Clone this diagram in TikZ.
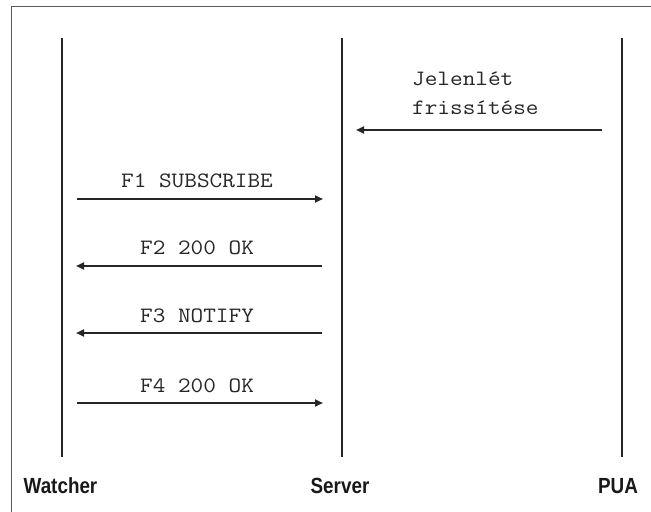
\documentclass[tikz,border=0pt]{standalone}
\usepackage{fontspec}
\setmainfont{Liberation Sans}
\usetikzlibrary{arrows.meta}
\newcommand{\mt}[1]{\scalebox{1.12}[1]{#1}}
\newcommand{\at}[1]{\scalebox{0.86}[1]{#1}}
\begin{document}
\begin{tikzpicture}[x=1bp,y=-1bp,
  lifeline/.style={line width=2.6bp,black!85},
  msg/.style={line width=2.2bp,black!85,-{Triangle[length=8bp,width=7bp]}},
  msgtext/.style={font=\fontsize{22}{26}\selectfont\ttfamily,text=black!85,inner sep=0pt},
  actor/.style={font=\fontsize{22}{24}\selectfont\bfseries,text=black!90,inner sep=0pt},
  frame/.style={line width=1bp,black!65}]
\useasboundingbox (0,0) rectangle (651,512);
\draw[frame] (11,512) -- (11,7) -- (651,7);
% lifelines
\coordinate (wt) at (62,38);  \coordinate (wb) at (62,457);
\coordinate (st) at (342,38); \coordinate (sb) at (342,457);
\coordinate (pt) at (622,38); \coordinate (pb) at (622,457);
\draw[lifeline] (wt) -- (wb);
\draw[lifeline] (st) -- (sb);
\draw[lifeline] (pt) -- (pb);
\node[actor,anchor=base] (watcher) at (60.5,493) {\at{Watcher}};
\node[actor,anchor=base] (server) at (340,493) {\at{Server}};
\node[actor,anchor=base] (pua) at (618,493) {\at{PUA}};
% message end points
\coordinate (p0a) at (602,130); \coordinate (p0b) at (356,130);
\coordinate (m1a) at (77,199);  \coordinate (m1b) at (323,199);
\coordinate (m2a) at (322,266); \coordinate (m2b) at (76,266);
\coordinate (m3a) at (322,333); \coordinate (m3b) at (76,333);
\coordinate (m4a) at (77,403);  \coordinate (m4b) at (323,403);
\draw[msg] (p0a) -- (p0b);
\draw[msg] (m1a) -- (m1b);
\draw[msg] (m2a) -- (m2b);
\draw[msg] (m3a) -- (m3b);
\draw[msg] (m4a) -- (m4b);
\node[msgtext,anchor=base west] (jel1) at (412,86) {\mt{Jelenlét}};
\node[msgtext,anchor=base west] (jel2) at (412,115) {\mt{frissítése}};
\node[msgtext,anchor=base] (f1) at (197,188) {\mt{F1 SUBSCRIBE}};
\node[msgtext,anchor=base] (f2) at (197,255) {\mt{F2 200 OK}};
\node[msgtext,anchor=base] (f3) at (197,322) {\mt{F3 NOTIFY}};
\node[msgtext,anchor=base] (f4) at (197,392) {\mt{F4 200 OK}};
\end{tikzpicture}
\end{document}
